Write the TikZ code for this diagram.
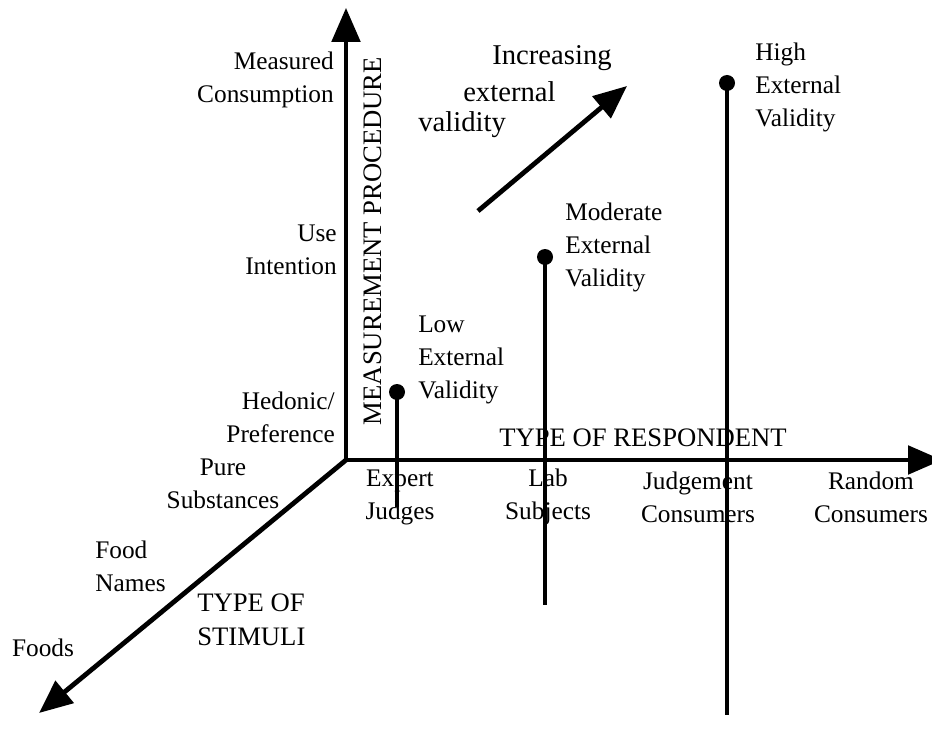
\documentclass[tikz,border=0pt]{standalone}
\usepackage{fontspec}
\setmainfont{Liberation Serif}
\usetikzlibrary{arrows.meta}
\begin{document}
\begin{tikzpicture}[x=0.75pt,y=-0.75pt,
  lbl/.style={font=\fontsize{19}{24.75}\selectfont, inner sep=0pt},
  caps/.style={font=\fontsize{20}{25.5}\selectfont, inner sep=0pt},
  wide/.style={font=\fontsize{21.5}{25}\selectfont, inner sep=0pt, anchor=west},
  axis/.style={line width=2.5pt, -{Triangle[length=25.5pt,width=21.5pt]}},
  slant/.style={line width=3.6pt, -{Triangle[length=25pt,width=21pt]}},
  stem/.style={line width=2.3pt},
  dot/.style={circle, fill=black, inner sep=0pt, minimum size=12pt}]
\useasboundingbox (0,0) rectangle (932,731);

% three axes from a common origin
\coordinate (O) at (346,460);
\coordinate (up) at (346,8);
\coordinate (right) at (942,460);
\coordinate (down) at (39,713);
\draw[axis] (O) -- (up);
\draw[axis] (O) -- (right);
\draw[slant] (O) -- (down);

% axis labels
\node[caps, rotate=90] (mp) at (373,241) {MEASUREMENT PROCEDURE};
\node[caps] (tr) at (643,438) {TYPE OF RESPONDENT};
\node[caps, anchor=west, align=left] (ts) at (197,620) {TYPE OF\\STIMULI};

% measurement procedure levels
\node[lbl, anchor=east, align=right] (mc) at (334,80) {Measured\\Consumption};
\node[lbl, anchor=east, align=right] (ui) at (337,250) {Use\\Intention};
\node[lbl, anchor=east, align=right] (hp) at (335,417) {Hedonic/\\Preference};

% respondent levels
\node[lbl, align=center] (ej) at (400,497) {Expert\\Judges};
\node[lbl, align=center] (ls) at (548,497) {Lab\\Subjects};
\node[lbl, align=center] (jc) at (698,497) {Judgement\\Consumers};
\node[lbl, align=center] (rc) at (871,497) {Random\\Consumers};

% stimulus levels
\node[lbl, align=center] (ps) at (223,484) {Pure\\Substances};
\node[lbl, anchor=west, align=left] (fn) at (95,566) {Food\\Names};
\node[lbl] (fd) at (43,648) {Foods};

% validity points
\node[dot] (lowdot) at (397,392) {};
\coordinate (lowend) at (397,507);
\draw[stem] (lowdot.center) -- (lowend);
\node[lbl, anchor=west, align=left] (low) at (418,360) {Low\\External\\Validity};

\node[dot] (moddot) at (545,257) {};
\coordinate (modend) at (545,605);
\draw[stem] (moddot.center) -- (modend);
\node[lbl, anchor=west, align=left] (mod) at (565,247) {Moderate\\External\\Validity};

\node[dot] (highdot) at (727,83) {};
\coordinate (highend) at (727,715);
\draw[stem] (highdot.center) -- (highend);
\node[lbl, anchor=west, align=left] (high) at (755,87) {High\\External\\Validity};

% direction of increasing validity
\coordinate (incfrom) at (478,211);
\coordinate (incto) at (627,86);
\draw[slant] (incfrom) -- (incto);
\node[wide] (inc1) at (492,58) {Increasing};
\node[wide] (inc2) at (463,92) {external};
\node[wide] (inc3) at (418,125) {validity};
\end{tikzpicture}
\end{document}
